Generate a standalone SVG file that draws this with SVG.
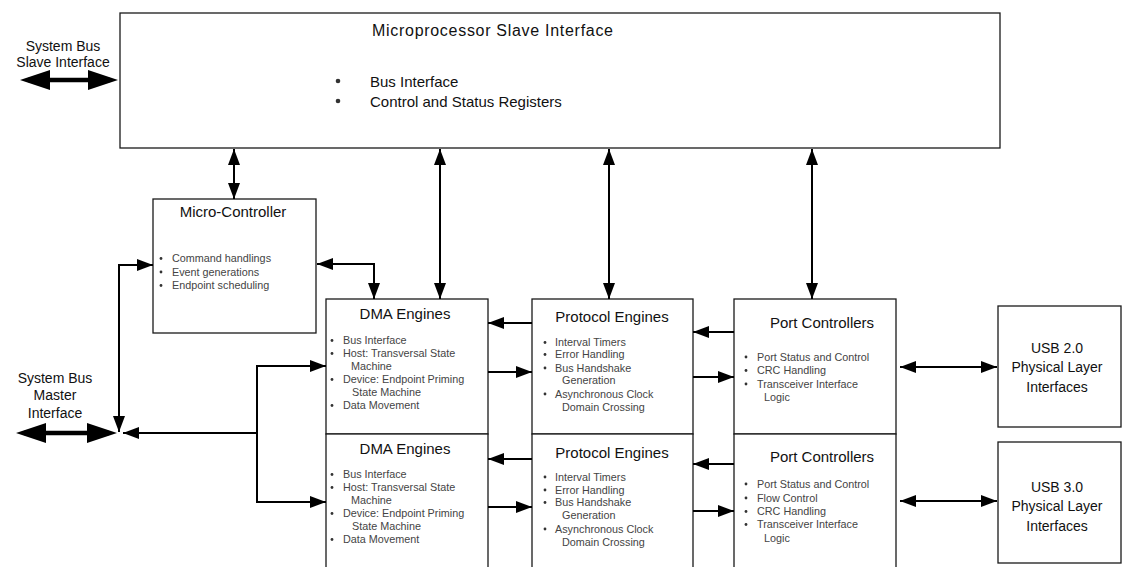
<svg xmlns="http://www.w3.org/2000/svg" width="1124" height="567" viewBox="0 0 1124 567">
  <defs>
    <style>
      .box { fill: #fff; stroke: #1a1a1a; stroke-width: 1.3; }
      text { font-family: "Liberation Sans", Arial, sans-serif; fill: #111; }
      .title { font-size: 15px; text-anchor: middle; }
      .big { font-size: 15px; }
      .lbl { font-size: 14px; text-anchor: middle; }
      .item { font-size: 10.8px; fill: #444; }
      .dot { fill: #333; }
      .wire { fill: none; stroke: #000; stroke-width: 2; }
      .bus { fill: none; stroke: #000; stroke-width: 4.5; }
    </style>
    <marker id="ah" markerUnits="userSpaceOnUse" markerWidth="17" markerHeight="12" refX="16" refY="6" orient="auto-start-reverse">
      <path d="M0,0 L16,6 L0,12 z" fill="#000"/>
    </marker>
    <marker id="bh" markerUnits="userSpaceOnUse" markerWidth="30" markerHeight="20" refX="22" refY="10" orient="auto-start-reverse">
      <path d="M0,0 L30,10 L0,20 z" fill="#000"/>
    </marker>
  </defs>

  <rect width="1124" height="567" fill="#fff"/>

  <!-- external bus labels -->
  <g id="slave-bus-label">
    <text class="lbl" x="63" y="51">System Bus</text>
    <text class="lbl" x="63" y="67">Slave Interface</text>
  </g>
  <g id="master-bus-label">
    <text class="lbl" x="55" y="383">System Bus</text>
    <text class="lbl" x="55" y="400">Master</text>
    <text class="lbl" x="55" y="418">Interface</text>
  </g>

  <g id="mpu-slave">
    <rect class="box" x="120" y="13" width="880" height="135"/>
    <text x="372" y="36" font-size="16" textLength="241">Microprocessor Slave Interface</text>
    <circle class="dot" cx="338" cy="81" r="2.3"/>
    <circle class="dot" cx="338" cy="101" r="2.3"/>
    <text class="big" x="370" y="87">Bus Interface</text>
    <text class="big" x="370" y="107">Control and Status Registers</text>
  </g>

  <g id="micro-controller">
    <rect class="box" x="153" y="199" width="163" height="134"/>
    <text class="title" x="233" y="217" font-size="13">Micro-Controller</text>
    <circle class="dot" cx="161" cy="258.5" r="1.4"/>
    <circle class="dot" cx="161" cy="272" r="1.4"/>
    <circle class="dot" cx="161" cy="285.5" r="1.4"/>
    <text class="item" x="172" y="262">Command handlings</text>
    <text class="item" x="172" y="275.5">Event generations</text>
    <text class="item" x="172" y="289">Endpoint scheduling</text>
  </g>

  <g id="dma-1">
    <rect class="box" x="326" y="299" width="162" height="135"/>
    <text class="title" x="405" y="319">DMA Engines</text>
    <circle class="dot" cx="332" cy="340.5" r="1.4"/>
    <circle class="dot" cx="332" cy="353.5" r="1.4"/>
    <circle class="dot" cx="332" cy="379.5" r="1.4"/>
    <circle class="dot" cx="332" cy="405.5" r="1.4"/>
    <text class="item" x="343" y="344">Bus Interface</text>
    <text class="item" x="343" y="357">Host: Transversal State</text>
    <text class="item" x="351" y="370">Machine</text>
    <text class="item" x="343" y="383">Device: Endpoint Priming</text>
    <text class="item" x="352" y="396">State Machine</text>
    <text class="item" x="343" y="409">Data Movement</text>
  </g>

  <g id="dma-2">
    <rect class="box" x="326" y="434" width="162" height="140"/>
    <text class="title" x="405" y="454">DMA Engines</text>
    <circle class="dot" cx="332" cy="474.5" r="1.4"/>
    <circle class="dot" cx="332" cy="487.5" r="1.4"/>
    <circle class="dot" cx="332" cy="513.5" r="1.4"/>
    <circle class="dot" cx="332" cy="539.5" r="1.4"/>
    <text class="item" x="343" y="478">Bus Interface</text>
    <text class="item" x="343" y="491">Host: Transversal State</text>
    <text class="item" x="351" y="504">Machine</text>
    <text class="item" x="343" y="517">Device: Endpoint Priming</text>
    <text class="item" x="352" y="530">State Machine</text>
    <text class="item" x="343" y="543">Data Movement</text>
  </g>

  <g id="protocol-1">
    <rect class="box" x="532" y="299" width="161" height="135"/>
    <text class="title" x="612" y="322">Protocol Engines</text>
    <circle class="dot" cx="545" cy="342.5" r="1.4"/>
    <circle class="dot" cx="545" cy="354.5" r="1.4"/>
    <circle class="dot" cx="545" cy="368" r="1.4"/>
    <circle class="dot" cx="545" cy="394" r="1.4"/>
    <text class="item" x="555" y="346">Interval Timers</text>
    <text class="item" x="555" y="358">Error Handling</text>
    <text class="item" x="555" y="371.5">Bus Handshake</text>
    <text class="item" x="562" y="384">Generation</text>
    <text class="item" x="555" y="397.5">Asynchronous Clock</text>
    <text class="item" x="562" y="410.5">Domain Crossing</text>
  </g>

  <g id="protocol-2">
    <rect class="box" x="532" y="434" width="161" height="140"/>
    <text class="title" x="612" y="458">Protocol Engines</text>
    <circle class="dot" cx="545" cy="477" r="1.4"/>
    <circle class="dot" cx="545" cy="490" r="1.4"/>
    <circle class="dot" cx="545" cy="502.5" r="1.4"/>
    <circle class="dot" cx="545" cy="529" r="1.4"/>
    <text class="item" x="555" y="480.5">Interval Timers</text>
    <text class="item" x="555" y="493.5">Error Handling</text>
    <text class="item" x="555" y="506">Bus Handshake</text>
    <text class="item" x="562" y="519">Generation</text>
    <text class="item" x="555" y="532.5">Asynchronous Clock</text>
    <text class="item" x="562" y="545.5">Domain Crossing</text>
  </g>

  <g id="port-1">
    <rect class="box" x="734" y="299" width="162" height="135"/>
    <text class="title" x="822" y="328" font-size="14">Port Controllers</text>
    <circle class="dot" cx="746" cy="357" r="1.4"/>
    <circle class="dot" cx="746" cy="370.5" r="1.4"/>
    <circle class="dot" cx="746" cy="384" r="1.4"/>
    <text class="item" x="757" y="360.5">Port Status and Control</text>
    <text class="item" x="757" y="374">CRC Handling</text>
    <text class="item" x="757" y="387.5">Transceiver Interface</text>
    <text class="item" x="764" y="401">Logic</text>
  </g>

  <g id="port-2">
    <rect class="box" x="734" y="434" width="162" height="140"/>
    <text class="title" x="822" y="462" font-size="14">Port Controllers</text>
    <circle class="dot" cx="746" cy="484" r="1.4"/>
    <circle class="dot" cx="746" cy="498" r="1.4"/>
    <circle class="dot" cx="746" cy="511.5" r="1.4"/>
    <circle class="dot" cx="746" cy="524.5" r="1.4"/>
    <text class="item" x="757" y="487.5">Port Status and Control</text>
    <text class="item" x="757" y="501.5">Flow Control</text>
    <text class="item" x="757" y="515">CRC Handling</text>
    <text class="item" x="757" y="528">Transceiver Interface</text>
    <text class="item" x="764" y="541.5">Logic</text>
  </g>

  <g id="usb2-phy">
    <rect class="box" x="998" y="306" width="123" height="121"/>
    <text class="lbl" x="1057" y="353">USB 2.0</text>
    <text class="lbl" x="1057" y="372">Physical Layer</text>
    <text class="lbl" x="1057" y="392">Interfaces</text>
  </g>

  <g id="usb3-phy">
    <rect class="box" x="998" y="442" width="123" height="121"/>
    <text class="lbl" x="1057" y="492">USB 3.0</text>
    <text class="lbl" x="1057" y="511">Physical Layer</text>
    <text class="lbl" x="1057" y="531">Interfaces</text>
  </g>

  <g id="connectors">
    <!-- external system buses -->
    <path class="bus" d="M28,80 H110" marker-start="url(#bh)" marker-end="url(#bh)"/>
    <path class="bus" d="M24,433 H109" marker-start="url(#bh)" marker-end="url(#bh)"/>

    <!-- slave interface to blocks below -->
    <path class="wire" d="M234,149 V199" marker-start="url(#ah)" marker-end="url(#ah)"/>
    <path class="wire" d="M440,149 V299" marker-start="url(#ah)" marker-end="url(#ah)"/>
    <path class="wire" d="M609,149 V299" marker-start="url(#ah)" marker-end="url(#ah)"/>
    <path class="wire" d="M812,149 V299" marker-start="url(#ah)" marker-end="url(#ah)"/>

    <!-- micro-controller links -->
    <path class="wire" d="M317,264 H374 V299" marker-start="url(#ah)" marker-end="url(#ah)"/>
    <path class="wire" d="M119,432 V265 H153" marker-start="url(#ah)" marker-end="url(#ah)"/>

    <!-- master bus fan-out to DMA engines -->
    <path class="wire" d="M257,433 H123" marker-end="url(#ah)"/>
    <path class="wire" d="M326,366 H257 V502 H326" marker-start="url(#ah)" marker-end="url(#ah)"/>

    <!-- DMA <-> protocol -->
    <path class="wire" d="M532,323 H488" marker-end="url(#ah)"/>
    <path class="wire" d="M488,372 H532" marker-end="url(#ah)"/>
    <path class="wire" d="M532,459 H488" marker-end="url(#ah)"/>
    <path class="wire" d="M488,507 H532" marker-end="url(#ah)"/>

    <!-- protocol <-> port -->
    <path class="wire" d="M734,332 H693" marker-end="url(#ah)"/>
    <path class="wire" d="M693,377 H734" marker-end="url(#ah)"/>
    <path class="wire" d="M734,464 H693" marker-end="url(#ah)"/>
    <path class="wire" d="M693,511 H734" marker-end="url(#ah)"/>

    <!-- port <-> PHY -->
    <path class="wire" d="M900,367 H997" marker-start="url(#ah)" marker-end="url(#ah)"/>
    <path class="wire" d="M900,501 H997" marker-start="url(#ah)" marker-end="url(#ah)"/>
  </g>
</svg>
